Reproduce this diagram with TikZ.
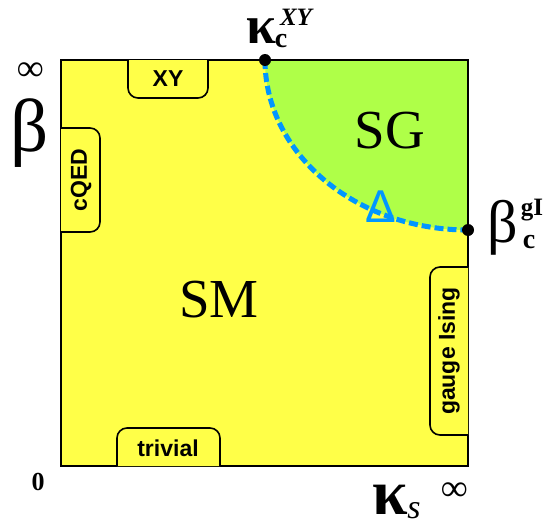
\documentclass[tikz,border=0pt]{standalone}
\usepackage{fontspec}
\setmainfont{Liberation Serif}
\setsansfont{Liberation Sans}
\usetikzlibrary{positioning}
\definecolor{yellow1}{RGB}{255,255,72}
\definecolor{green1}{RGB}{175,255,72}
\definecolor{blue1}{RGB}{0,150,255}

\tikzset{
  tab/.style={draw=black, line width=1.6pt, rounded corners=10pt, fill=yellow1},
  tablabel/.style={font=\sffamily\bfseries\fontsize{23}{23}\selectfont, inner sep=0pt},
  phase/.style={font=\fontsize{55}{55}\selectfont, inner sep=0pt},
  axislabel/.style={font=\bfseries\fontsize{37}{37}\selectfont, inner sep=0pt},
  script/.style={font=\bfseries\fontsize{28}{28}\selectfont, inner sep=0pt},
  critdot/.style={circle, fill=black, inner sep=0pt, minimum size=12pt},
}

\begin{document}
\begin{tikzpicture}[x=1pt, y=1pt]
  \useasboundingbox (0,0) rectangle (553,-527);
  % phases
  \fill[yellow1] (61,-60) rectangle (468,-466);
  \coordinate (kxy) at (265,-60);
  \coordinate (bgi) at (468,-230);
  \fill[green1] (kxy) arc[start angle=180, end angle=270, x radius=203pt, y radius=170pt] -- (468,-60) -- cycle;
  \draw[blue1, line width=5pt, dash pattern=on 9pt off 4pt]
    (kxy) arc[start angle=180, end angle=270, x radius=203pt, y radius=170pt];
  \draw[line width=2.5pt] (61,-60) rectangle (468,-466);

  % corner regimes
  \draw[tab] (128,-60) -- (128,-98) -- (208,-98) -- (208,-60);
  \node[tablabel] (xy) at (168,-79) {XY};
  \draw[tab] (61,-128) -- (100,-128) -- (100,-232) -- (61,-232);
  \node[tablabel, rotate=90] (cqed) at (81,-180) {cQED};
  \draw[tab] (468,-267) -- (430,-267) -- (430,-435) -- (468,-435);
  \node[tablabel, rotate=90] (gising) at (449,-351) {gauge Ising};
  \draw[tab] (117,-466) -- (117,-428) -- (220,-428) -- (220,-466);
  \node[tablabel] (trivial) at (168,-448) {trivial};

  \node[phase] (sg) at (390,-131) {SG};
  \node[phase] (sm) at (219,-300) {SM};
  \node[font=\sffamily\fontsize{46}{46}\selectfont, text=blue1, inner sep=0pt] (delta) at (381,-207) {Δ};

  % critical points
  \node[critdot] (kxydot) at (kxy) {};
  \node[critdot] (bgidot) at (bgi) {};
  \node[font=\bfseries\fontsize{54}{54}\selectfont, inner sep=0pt] (kxyk) at (261,-31) {κ};
  \node[script, font=\bfseries\itshape\fontsize{25}{25}\selectfont] (kxysup) at (296,-17) {XY};
  \node[script] (kxysub) at (281,-41) {c};
  \node[font=\fontsize{60}{60}\selectfont, inner sep=0pt] (bgib) at (503,-228) {β};
  \node[script, font=\bfseries\fontsize{25}{25}\selectfont] (bgisup) at (532,-210) {gI};
  \node[script] (bgisub) at (529,-242) {c};

  % axes
  \node[axislabel] (inftop) at (31,-72) {∞};
  \node[font=\fontsize{75}{75}\selectfont, inner sep=0pt] (beta) at (30,-133) {β};
  \node[font=\bfseries\fontsize{26}{26}\selectfont, inner sep=0pt] (zero) at (38,-482) {0};
  \node[font=\bfseries\fontsize{64}{64}\selectfont, inner sep=0pt] (kappa) at (390,-500) {κ};
  \node[font=\itshape\fontsize{34}{34}\selectfont, inner sep=0pt] (kappasub) at (414,-511) {s};
  \node[axislabel] (infright) at (455,-492) {∞};
\end{tikzpicture}
\end{document}
